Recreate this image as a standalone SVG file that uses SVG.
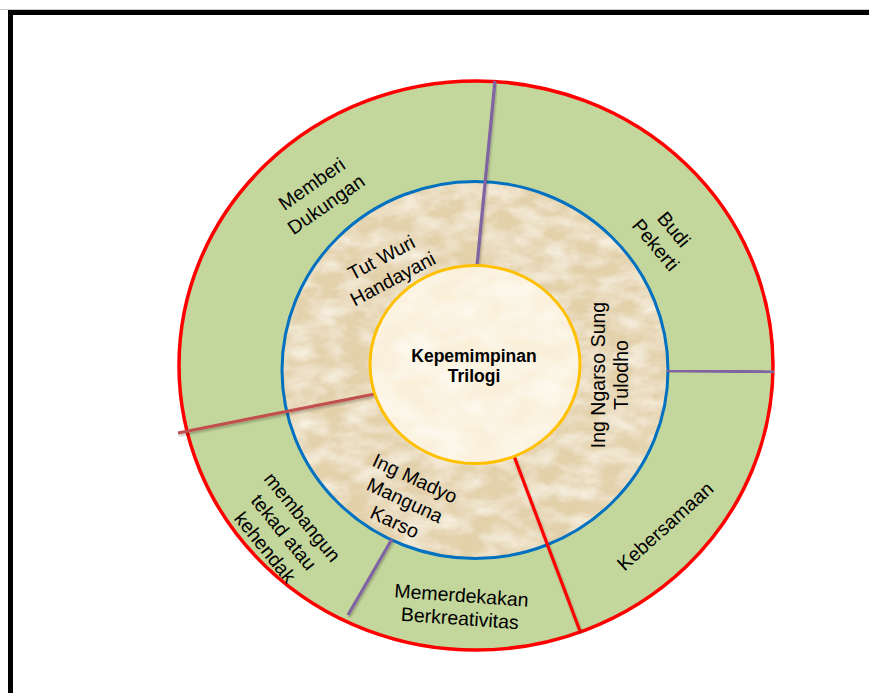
<svg xmlns="http://www.w3.org/2000/svg" width="869" height="693" viewBox="0 0 869 693">
<style>
.t{font-family:"Liberation Sans",Arial,sans-serif;font-size:19.5px;fill:#000;text-anchor:middle}
.c{font-family:"Liberation Sans",Arial,sans-serif;font-size:17.5px;font-weight:bold;fill:#000;text-anchor:middle}
.div{fill:none;stroke-width:3.2;stroke-linecap:butt;filter:url(#sh)}
</style>
<defs>
<filter id="parch" x="0" y="0" width="100%" height="100%">
<feTurbulence type="fractalNoise" baseFrequency="0.035 0.06" numOctaves="4" seed="5" result="n"/>
<feColorMatrix in="n" type="matrix" values="0 0 0 0 1  0 0 0 0 0.97  0 0 0 0 0.9  1.3 0 0 0 -0.45" result="c"/>
<feComposite in="c" in2="SourceGraphic" operator="in" result="m"/>
<feMerge><feMergeNode in="SourceGraphic"/><feMergeNode in="m"/></feMerge>
</filter>
<filter id="parch2" x="0" y="0" width="100%" height="100%">
<feTurbulence type="fractalNoise" baseFrequency="0.03 0.05" numOctaves="3" seed="9" result="n"/>
<feColorMatrix in="n" type="matrix" values="0 0 0 0 1  0 0 0 0 1  0 0 0 0 0.97  1.2 0 0 0 -0.4" result="c"/>
<feComposite in="c" in2="SourceGraphic" operator="in" result="m"/>
<feMerge><feMergeNode in="SourceGraphic"/><feMergeNode in="m"/></feMerge>
</filter>
<filter id="sh" x="-10%" y="-10%" width="120%" height="120%">
<feDropShadow dx="1" dy="2" stdDeviation="1" flood-color="#000" flood-opacity="0.25"/>
</filter>
</defs>
<rect width="869" height="693" fill="#fff"/>
<line x1="0" y1="9.5" x2="869" y2="9.5" stroke="#c8c8c8" stroke-width="1"/>
<rect x="10.5" y="12.5" width="900" height="720" fill="none" stroke="#000" stroke-width="5"/>

<g id="outer-ring">
<ellipse cx="476" cy="365.5" rx="297" ry="284.5" fill="#C3D69B" stroke="#FF0000" stroke-width="3.5"/>
</g>
<g id="middle-ring">
<ellipse cx="475" cy="370" rx="193" ry="188.5" fill="#E3D1AB" filter="url(#parch)"/>
<ellipse cx="475" cy="370" rx="193" ry="188.5" fill="none" stroke="#0070C0" stroke-width="3"/>
</g>

<g id="connectors">
<line class="div" x1="495" y1="81" x2="477" y2="266" stroke="#8064A2"/>
<line class="div" x1="667" y1="370.5" x2="774" y2="372" stroke="#8064A2"/>
<line class="div" x1="178" y1="433" x2="380" y2="393" stroke="#C0504D"/>
<line class="div" x1="392" y1="539" x2="348" y2="615" stroke="#8064A2"/>
<line class="div" x1="514" y1="456" x2="580" y2="631" stroke="#FF0000" stroke-width="2.6"/>
</g>

<g id="center">
<ellipse cx="475" cy="364.5" rx="105" ry="99" fill="#FAF0DA" filter="url(#parch2)"/>
<ellipse cx="475" cy="364.5" rx="105" ry="99" fill="none" stroke="#FFC000" stroke-width="3"/>
<text class="c" x="474" y="362">Kepemimpinan</text>
<text class="c" x="474" y="382">Trilogi</text>
</g>

<g id="tut-wuri">
<text class="t" transform="translate(387,268) rotate(-28)"><tspan x="0" y="-5">Tut Wuri</tspan><tspan x="0" y="19">Handayani</tspan></text>
</g>
<g id="ing-ngarso">
<text class="t" transform="translate(605,375) rotate(-90)"><tspan x="0" y="0">Ing Ngarso Sung</tspan><tspan x="0" y="23">Tulodho</tspan></text>
</g>
<g id="ing-madyo">
<text class="t" transform="translate(405,500) rotate(25)"><tspan x="0" y="-17">Ing Madyo</tspan><tspan x="0" y="7">Manguna</tspan><tspan x="0" y="31">Karso</tspan></text>
</g>
<g id="memberi">
<text class="t" transform="translate(318.5,193.5) rotate(-35)"><tspan x="0" y="-5">Memberi</tspan><tspan x="0" y="20">Dukungan</tspan></text>
</g>
<g id="budi">
<text class="t" transform="translate(665,237) rotate(50)"><tspan x="0" y="-5">Budi</tspan><tspan x="0" y="19">Pekerti</tspan></text>
</g>
<g id="kebersamaan">
<text class="t" transform="translate(665,526) rotate(-42)"><tspan x="0" y="7">Kebersamaan</tspan></text>
</g>
<g id="memerdekakan">
<text class="t" transform="translate(461,602) rotate(4)"><tspan x="0" y="0">Memerdekakan</tspan><tspan x="0" y="23">Berkreativitas</tspan></text>
</g>
<g id="membangun">
<text class="t" transform="translate(284,532) rotate(51)"><tspan x="0" y="-17">membangun</tspan><tspan x="0" y="7">tekad atau</tspan><tspan x="0" y="31">kehendak</tspan></text>
</g>
</svg>
